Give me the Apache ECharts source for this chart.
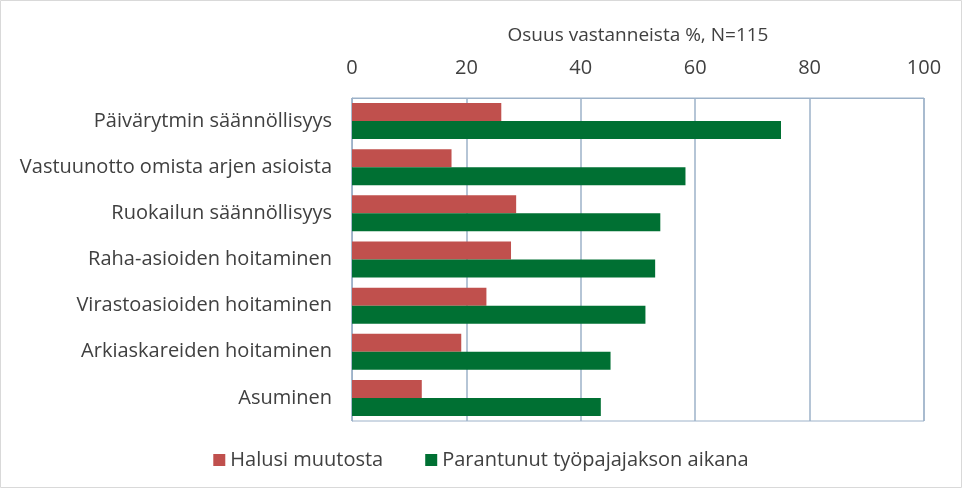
<!DOCTYPE html>
<html>
<head>
<meta charset="utf-8">
<script src="https://cdn.jsdelivr.net/npm/echarts@6/dist/echarts.min.js"></script>
<style>
  html, body { margin: 0; padding: 0; background: #fff; }
  #chart { width: 962px; height: 488px; }
</style>
</head>
<body>
<div id="chart"></div>
<script>
// aineisto
var categories = [
  'Päivärytmin säännöllisyys',
  'Vastuunotto omista arjen asioista',
  'Ruokailun säännöllisyys',
  'Raha-asioiden hoitaminen',
  'Virastoasioiden hoitaminen',
  'Arkiaskareiden hoitaminen',
  'Asuminen'
]
var halusiMuutosta = [26.1, 17.4, 28.7, 27.8, 23.5, 19.1, 12.2]
var parantunut = [75.0, 58.3, 53.9, 53.0, 51.3, 45.2, 43.5]
var seriesNames = ['Halusi muutosta', 'Parantunut työpajajakson aikana']
var axisTitle = 'Osuus vastanneista %, N=115'

var textColor = '#404040'
var lineColor = '#9db2c9'
var font = 'Open Sans'

var chart = echarts.init(document.getElementById('chart'))
chart.setOption({
  animation: false,
  textStyle: { fontFamily: font, color: textColor },
  graphic: [{
    type: 'rect',
    shape: { x: 0.5, y: 0.5, width: 961, height: 487 },
    style: { fill: 'none', stroke: '#d9d9d9', lineWidth: 1 },
    silent: true
  }],
  grid: {
    left: 352,
    right: 38,
    top: 98,
    bottom: 67,
    show: true,
    borderColor: lineColor,
    borderWidth: 1
  },
  legend: {
    top: 445,
    left: 'center',
    itemWidth: 12,
    itemHeight: 12,
    itemGap: 42,
    icon: 'rect',
    textStyle: { fontSize: 20, color: textColor, fontFamily: font },
    data: seriesNames
  },
  xAxis: {
    type: 'value',
    position: 'top',
    min: 0,
    max: 100,
    interval: 20,
    name: axisTitle,
    nameLocation: 'middle',
    nameGap: 53,
    nameTextStyle: { fontSize: 19, color: textColor },
    axisLine: { show: true, lineStyle: { color: lineColor } },
    axisTick: { show: false },
    axisLabel: { fontSize: 20, color: textColor, margin: 20 },
    splitLine: { lineStyle: { color: lineColor, width: 1.5 } }
  },
  yAxis: {
    type: 'category',
    inverse: true,
    data: categories,
    axisLine: { show: true, lineStyle: { color: lineColor } },
    axisTick: { show: false },
    axisLabel: { fontSize: 20, color: textColor, margin: 20 }
  },
  series: [
    {
      name: seriesNames[0],
      type: 'bar',
      data: halusiMuutosta,
      barGap: '0%',
      barCategoryGap: '22%',
      itemStyle: { color: '#c0504d' }
    },
    {
      name: seriesNames[1],
      type: 'bar',
      data: parantunut,
      barGap: '0%',
      barCategoryGap: '22%',
      itemStyle: { color: '#007033' }
    }
  ]
})
</script>
</body>
</html>
